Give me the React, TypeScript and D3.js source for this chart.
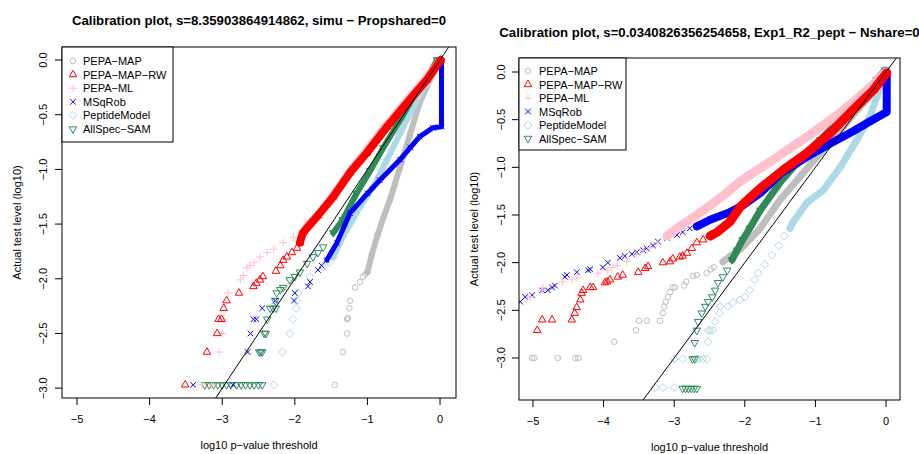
import React from "react";
import * as d3 from "d3";

type P = [number, number];

// ---------- shared series meta ----------
const seriesNames = ["PEPA−MAP", "PEPA−MAP−RW", "PEPA−ML", "MSqRob", "PeptideModel", "AllSpec−SAM"];
const seriesColors = ["#BEBEBE", "#FF0000", "#FFC0CB", "#0000FF", "#ADD8E6", "#2E8B57"];
const seriesPch = [1, 2, 3, 4, 5, 6];
const drawOrder = [0, 4, 5, 3, 2, 1];

const xTicks = [-5, -4, -3, -2, -1, 0];
const yTicks = [0, -0.5, -1, -1.5, -2, -2.5, -3];
const titleLeft = "Calibration plot, s=8.35903864914862, simu − Propshared=0";
const titleRight = "Calibration plot, s=0.0340826356254658, Exp1_R2_pept − Nshare=0";
const xLabel = "log10 p−value threshold";
const yLabel = "Actual test level (log10)";

// ---------- left panel (simu) ----------
const L_mapPts: P[] = [[-1.45, -2.97], [-1.34, -2.67], [-1.28, -2.5], [-1.28, -2.37], [-1.27, -2.36], [-1.25, -2.27], [-1.24, -2.2], [-1.17, -2.08], [-1.1, -2.03], [-1.06, -1.98], [-1.03, -1.96]];
const L_mapBand: P[] = [[-1.0, -1.94], [-0.94, -1.78], [-0.86, -1.6], [-0.78, -1.44], [-0.69, -1.28], [-0.55, -0.98], [-0.41, -0.67], [-0.28, -0.39], [-0.14, -0.18], [-0.03, -0.05], [0, 0]];

const L_rwPts: P[] = [[-3.51, -2.97], [-3.21, -2.67], [-3.07, -2.5], [-3.05, -2.37], [-3.01, -2.37], [-2.98, -2.27], [-2.94, -2.2], [-2.77, -2.13], [-2.57, -2.07], [-2.53, -2.04], [-2.48, -2.01], [-2.44, -1.98], [-2.26, -1.93], [-2.2, -1.88], [-2.16, -1.83], [-2.11, -1.8], [-2.04, -1.76], [-1.97, -1.72]];
const L_rwBand: P[] = [[-1.93, -1.67], [-1.89, -1.58], [-1.68, -1.42], [-1.47, -1.25], [-1.24, -1.03], [-1.01, -0.85], [-0.73, -0.61], [-0.45, -0.39], [-0.18, -0.18], [0.01, 0]];

const L_mlPts: P[] = [[-3.28, -2.97], [-3.14, -2.97], [-3.04, -2.67], [-3.0, -2.5], [-2.98, -2.37], [-2.92, -2.13], [-2.75, -2.01], [-2.71, -1.97], [-2.66, -1.9], [-2.62, -1.88], [-2.56, -1.85], [-2.48, -1.8], [-2.38, -1.76], [-2.29, -1.73], [-2.16, -1.67], [-2.02, -1.62]];
const L_mlBand: P[] = [[-1.83, -1.5], [-1.65, -1.4], [-1.47, -1.23], [-1.24, -1.01], [-1.0, -0.81], [-0.73, -0.58], [-0.45, -0.36], [-0.18, -0.15], [0, 0]];

const L_msqPts: P[] = [[-3.4, -2.97], [-2.85, -2.97], [-2.65, -2.67], [-2.61, -2.5], [-2.57, -2.37], [-2.53, -2.37], [-2.45, -2.27], [-2.27, -2.2], [-2.01, -2.2], [-2.0, -2.13], [-1.82, -2.07], [-1.79, -2.03], [-1.68, -1.92], [-1.63, -1.88]];
const L_msqBand: P[] = [[-1.56, -1.83], [-1.42, -1.67], [-1.24, -1.4], [-1.0, -1.22], [-0.83, -1.1], [-0.55, -0.91], [-0.41, -0.8], [-0.28, -0.7], [-0.1, -0.62], [0.02, -0.61], [0.02, -0.05], [0, 0]];

const L_pepPts: P[] = [[-2.29, -2.97], [-2.17, -2.67], [-2.07, -2.5], [-2.03, -2.37], [-1.98, -2.27], [-1.97, -2.2], [-1.95, -2.13], [-1.79, -1.98], [-1.61, -1.89], [-1.52, -1.85]];
const L_pepBand: P[] = [[-1.47, -1.8], [-1.34, -1.62], [-1.1, -1.34], [-0.92, -1.16], [-0.73, -0.91], [-0.55, -0.67], [-0.37, -0.43], [-0.18, -0.21], [-0.03, -0.03], [0, 0]];

const L_samPts: P[] = [[-3.24, -2.97], [-3.18, -2.97], [-3.12, -2.97], [-3.06, -2.97], [-3.0, -2.97], [-2.94, -2.97], [-2.88, -2.97], [-2.8, -2.97], [-2.74, -2.97], [-2.68, -2.97], [-2.62, -2.97], [-2.56, -2.97], [-2.5, -2.97], [-2.45, -2.97], [-2.49, -2.67], [-2.47, -2.67], [-2.45, -2.67], [-2.42, -2.5], [-2.4, -2.5], [-2.38, -2.37], [-2.34, -2.27], [-2.3, -2.27], [-2.26, -2.27], [-2.27, -2.2], [-2.25, -2.13], [-2.2, -2.1], [-2.16, -2.08], [-2.07, -2.01], [-2.0, -1.98], [-1.93, -1.94], [-1.83, -1.86], [-1.75, -1.8], [-1.68, -1.76], [-1.61, -1.71]];
const L_samBand: P[] = [[-1.47, -1.58], [-1.34, -1.46], [-1.15, -1.22], [-0.96, -1.01], [-0.78, -0.8], [-0.55, -0.55], [-0.37, -0.34], [-0.18, -0.16], [-0.04, 0.0]];

// ---------- right panel (Exp1_R2_pept) ----------
const R_mapPts: P[] = [[-5.01, -3.0], [-4.98, -3.0], [-4.65, -3.0], [-4.4, -3.0], [-4.36, -3.0], [-3.85, -2.83], [-3.54, -2.71], [-3.5, -2.61], [-3.39, -2.61], [-3.2, -2.61], [-3.16, -2.53], [-3.14, -2.46], [-3.12, -2.41], [-3.09, -2.36], [-3.06, -2.31], [-3.02, -2.26], [-2.99, -2.26], [-2.86, -2.24], [-2.83, -2.2], [-2.73, -2.14], [-2.68, -2.13], [-2.54, -2.11], [-2.48, -2.07], [-2.44, -2.05]];
const R_mapBand: P[] = [[-2.31, -1.99], [-2.05, -1.85], [-1.78, -1.64], [-1.5, -1.34], [-1.22, -1.1], [-0.93, -0.85], [-0.65, -0.61], [-0.37, -0.37], [-0.13, -0.16], [0, 0]];

const R_rwPts: P[] = [[-4.94, -2.71], [-4.87, -2.6], [-4.73, -2.6], [-4.45, -2.6], [-4.41, -2.53], [-4.38, -2.47], [-4.33, -2.39], [-4.31, -2.32], [-4.29, -2.29], [-4.19, -2.26], [-4.15, -2.26], [-3.98, -2.21], [-3.95, -2.2], [-3.91, -2.18], [-3.8, -2.15], [-3.73, -2.13], [-3.51, -2.1], [-3.41, -2.06], [-3.37, -2.04], [-3.16, -2.0], [-3.06, -1.99], [-3.02, -1.96], [-2.92, -1.94], [-2.88, -1.93], [-2.82, -1.9], [-2.75, -1.85], [-2.68, -1.79], [-2.59, -1.76]];
const R_rwBand: P[] = [[-2.49, -1.72], [-2.39, -1.68], [-2.21, -1.57], [-2.07, -1.42], [-1.93, -1.32], [-1.78, -1.22], [-1.46, -1.03], [-1.12, -0.85], [-0.79, -0.64], [-0.47, -0.4], [-0.18, -0.19], [0.01, -0.01]];

const R_mlPts: P[] = [[-5.04, -2.36], [-4.87, -2.29], [-4.86, -2.26], [-4.58, -2.2], [-4.45, -2.18], [-4.38, -2.16], [-4.08, -2.11], [-3.95, -2.08], [-3.88, -2.05], [-3.81, -2.03], [-3.67, -1.99], [-3.53, -1.92], [-3.44, -1.87], [-3.34, -1.84], [-3.24, -1.79]];
const R_mlBand: P[] = [[-3.1, -1.72], [-2.92, -1.62], [-2.68, -1.5], [-2.49, -1.4], [-2.31, -1.3], [-2.07, -1.15], [-1.6, -0.92], [-1.12, -0.68], [-0.65, -0.43], [-0.27, -0.19], [0, 0]];

const R_msqPts: P[] = [[-5.18, -2.41], [-5.11, -2.36], [-5.01, -2.34], [-4.87, -2.29], [-4.79, -2.29], [-4.73, -2.26], [-4.69, -2.24], [-4.55, -2.15], [-4.52, -2.13], [-4.38, -2.1], [-4.22, -2.08], [-4.19, -2.07], [-4.01, -2.05], [-3.94, -2.0], [-3.77, -1.95], [-3.7, -1.93], [-3.6, -1.91], [-3.53, -1.89], [-3.44, -1.87], [-3.39, -1.85], [-3.3, -1.82], [-3.23, -1.78], [-3.1, -1.74], [-2.96, -1.71], [-2.88, -1.68], [-2.78, -1.64]];
const R_msqBand: P[] = [[-2.68, -1.62], [-2.49, -1.55], [-2.21, -1.47], [-2.03, -1.4], [-1.78, -1.27], [-1.5, -1.07], [-1.12, -0.89], [-0.79, -0.75], [-0.51, -0.64], [-0.23, -0.52], [0.01, -0.42], [0.01, 0.0]];

const R_pepPts: P[] = [[-3.27, -3.31], [-3.16, -3.31], [-3.0, -3.31], [-3.0, -3.01], [-2.88, -3.01], [-2.68, -3.01], [-2.65, -3.01], [-2.59, -3.01], [-2.54, -3.01], [-2.52, -2.83], [-2.52, -2.71], [-2.49, -2.71], [-2.45, -2.71], [-2.42, -2.62], [-2.36, -2.53], [-2.35, -2.46], [-2.24, -2.46], [-2.17, -2.42], [-2.07, -2.39], [-2.0, -2.36], [-1.93, -2.29], [-1.86, -2.18], [-1.81, -2.11], [-1.72, -2.02], [-1.62, -1.92], [-1.52, -1.82], [-1.44, -1.72]];
const R_pepBand: P[] = [[-1.36, -1.64], [-1.32, -1.58], [-1.12, -1.37], [-0.89, -1.24], [-0.65, -1.0], [-0.41, -0.71], [-0.23, -0.47], [-0.13, -0.26], [-0.06, -0.08], [0, 0]];

const R_samPts: P[] = [[-2.88, -3.32], [-2.84, -3.32], [-2.8, -3.32], [-2.76, -3.32], [-2.72, -3.32], [-2.68, -3.32], [-2.74, -3.01], [-2.71, -3.01], [-2.71, -2.84], [-2.68, -2.71], [-2.66, -2.62], [-2.61, -2.53], [-2.56, -2.46], [-2.52, -2.41], [-2.46, -2.36], [-2.42, -2.29], [-2.38, -2.21], [-2.31, -2.15], [-2.25, -2.08]];
const R_samBand: P[] = [[-2.18, -1.97], [-2.11, -1.87], [-2.03, -1.76], [-1.93, -1.64], [-1.78, -1.45], [-1.5, -1.16], [-1.22, -0.92], [-0.93, -0.71], [-0.65, -0.5], [-0.37, -0.29], [-0.13, -0.08], [-0.01, 0.02]];

const leftPts = [L_mapPts, L_rwPts, L_mlPts, L_msqPts, L_pepPts, L_samPts];
const leftBands = [L_mapBand, L_rwBand, L_mlBand, L_msqBand, L_pepBand, L_samBand];
const rightPts = [R_mapPts, R_rwPts, R_mlPts, R_msqPts, R_pepPts, R_samPts];
const rightBands = [R_mapBand, R_rwBand, R_mlBand, R_msqBand, R_pepBand, R_samBand];

// ---------- layout / style ----------
const FONT = "'Liberation Sans', Arial, Helvetica, sans-serif";
const panels = [
  {
    id: "L", title: titleLeft, titleY: 25,
    box: { x0: 62, x1: 456, y0: 47, y1: 398 },
    xDom: [-5.207, 0.22], yDom: [-3.09, 0.119],
    tickLabY: 423, xLabY: 449, yTickX: 47, yLabX: 21,
    legend: { x0: 62, x1: 173, y0: 47, y1: 142, symX: 73, textX: 83, firstY: 61, step: 13.6 },
    bandW: [6, 8, 7, 5, 6, 6],
    pts: leftPts, bands: leftBands,
  },
  {
    id: "R", title: titleRight, titleY: 37,
    box: { x0: 519, x1: 900, y0: 58, y1: 400 },
    xDom: [-5.198, 0.198], yDom: [-3.441, 0.147],
    tickLabY: 425, xLabY: 451, yTickX: 505, yLabX: 478,
    legend: { x0: 519, x1: 626, y0: 58, y1: 150, symX: 528, textX: 539, firstY: 71, step: 13.5 },
    bandW: [7, 9, 9, 8, 7, 7],
    pts: rightPts, bands: rightBands,
  },
];

const RAD = 2.8;
function Sym({ pch, x, y, color }: { pch: number; x: number; y: number; color: string }) {
  const r = RAD;
  const common = { fill: "none", stroke: color, strokeWidth: 1 };
  if (pch === 1) return <circle cx={x} cy={y} r={r} {...common} />;
  if (pch === 2 || pch === 6) {
    const t0 = Math.sqrt((4 * Math.PI) / (3 * Math.sqrt(3))) * r;
    const t1 = (t0 * Math.sqrt(3)) / 2;
    const t2 = t0 / 2;
    const s = pch === 2 ? 1 : -1;
    return <path d={`M${x},${y - s * t0}L${x + t1},${y + s * t2}L${x - t1},${y + s * t2}Z`} {...common} />;
  }
  if (pch === 3) {
    const c = Math.SQRT2 * r;
    return <path d={`M${x - c},${y}H${x + c}M${x},${y - c}V${y + c}`} {...common} />;
  }
  if (pch === 4) {
    const c = r;
    return <path d={`M${x - c},${y - c}L${x + c},${y + c}M${x - c},${y + c}L${x + c},${y - c}`} {...common} />;
  }
  const c = Math.SQRT2 * r;
  return <path d={`M${x},${y - c}L${x + c},${y}L${x},${y + c}L${x - c},${y}Z`} {...common} />;
}

function Panel({ p }: { p: (typeof panels)[number] }) {
  const { box } = p;
  const xs = d3.scaleLinear().domain(p.xDom).range([box.x0, box.x1]);
  const ys = d3.scaleLinear().domain(p.yDom).range([box.y1, box.y0]);
  const line = d3.line<P>().x((d) => xs(d[0])).y((d) => ys(d[1]));
  const cx = (box.x0 + box.x1) / 2;
  const cy = (box.y0 + box.y1) / 2;
  const dLo = Math.min(p.xDom[0], p.yDom[0]);
  const dHi = Math.max(p.xDom[1], p.yDom[1]);
  const lg = p.legend;
  return (
    <g>
      <defs>
        <clipPath id={`clip-${p.id}`}>
          <rect x={box.x0} y={box.y0} width={box.x1 - box.x0} height={box.y1 - box.y0} />
        </clipPath>
      </defs>
      <text x={cx} y={p.titleY} textAnchor="middle" fontWeight="bold" fontSize={13.2} fontFamily={FONT}>{p.title}</text>
      <g clipPath={`url(#clip-${p.id})`}>
        {drawOrder.map((si) => (
          <g key={si}>
            <path d={line(p.bands[si]) || ""} fill="none" stroke={seriesColors[si]} strokeWidth={p.bandW[si]} strokeLinecap="round" strokeLinejoin="round" />
            {p.bands[si].concat(p.pts[si]).map((d, i) => (
              <Sym key={i} pch={seriesPch[si]} x={xs(d[0])} y={ys(d[1])} color={seriesColors[si]} />
            ))}
          </g>
        ))}
        <line x1={xs(dLo)} y1={ys(dLo)} x2={xs(dHi)} y2={ys(dHi)} stroke="#000" strokeWidth={1} />
      </g>
      <rect x={box.x0} y={box.y0} width={box.x1 - box.x0} height={box.y1 - box.y0} fill="none" stroke="#000" strokeWidth={1} />
      {xTicks.map((t) => (
        <g key={t}>
          <line x1={xs(t)} x2={xs(t)} y1={box.y1} y2={box.y1 + 7} stroke="#000" />
          <text x={xs(t)} y={p.tickLabY} textAnchor="middle" fontSize={11} fontFamily={FONT}>{t === 0 ? "0" : "−" + Math.abs(t)}</text>
        </g>
      ))}
      {yTicks.map((t) => (
        <g key={t}>
          <line x1={box.x0 - 7} x2={box.x0} y1={ys(t)} y2={ys(t)} stroke="#000" />
          <text transform={`translate(${p.yTickX},${ys(t)}) rotate(-90)`} textAnchor="middle" fontSize={11} fontFamily={FONT}>{t === 0 ? "0.0" : "−" + Math.abs(t).toFixed(1)}</text>
        </g>
      ))}
      <text x={cx} y={p.xLabY} textAnchor="middle" fontSize={11} fontFamily={FONT}>{xLabel}</text>
      <text transform={`translate(${p.yLabX},${cy}) rotate(-90)`} textAnchor="middle" fontSize={11} fontFamily={FONT}>{yLabel}</text>
      <rect x={lg.x0} y={lg.y0} width={lg.x1 - lg.x0} height={lg.y1 - lg.y0} fill="#fff" stroke="#000" strokeWidth={1} />
      {seriesNames.map((n, i) => (
        <g key={n}>
          <Sym pch={seriesPch[i]} x={lg.symX} y={lg.firstY + i * lg.step} color={seriesColors[i]} />
          <text x={lg.textX} y={lg.firstY + i * lg.step + 4} fontSize={11} fontFamily={FONT}>{n}</text>
        </g>
      ))}
    </g>
  );
}

export default function App() {
  return (
    <svg width={919} height={454} style={{ position: "absolute", left: 0, top: 0, background: "#fff" }}>
      <rect x={0} y={0} width={919} height={454} fill="#fff" />
      {panels.map((p) => (
        <Panel key={p.id} p={p} />
      ))}
    </svg>
  );
}
